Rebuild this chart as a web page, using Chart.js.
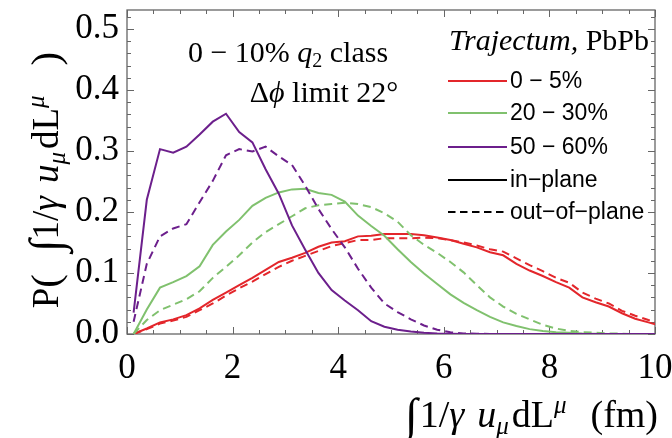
<!DOCTYPE html>
<html>
<head>
<meta charset="utf-8">
<script src="https://cdn.jsdelivr.net/npm/chart.js@4/dist/chart.umd.min.js"></script>
<style>
  html, body { margin: 0; padding: 0; background: #fff; }
  #wrap { width: 672px; height: 438px; }
</style>
</head>
<body>
<div id="wrap"><canvas id="pathChart" width="672" height="438"></canvas></div>
<script>
// Path-length bin centres (fm)
const lengthBins = [0.125, 0.375, 0.625, 0.875, 1.125, 1.375, 1.625, 1.875, 2.125, 2.375,
  2.625, 2.875, 3.125, 3.375, 3.625, 3.875, 4.125, 4.375, 4.625, 4.875,
  5.125, 5.375, 5.625, 5.875, 6.125, 6.375, 6.625, 6.875, 7.125, 7.375,
  7.625, 7.875, 8.125, 8.375, 8.625, 8.875, 9.125, 9.375, 9.625, 9.875, 10.125];

// 0-5% centrality
const central_in = [0, 0.009, 0.019, 0.024, 0.031, 0.042, 0.056, 0.068, 0.080, 0.092,
  0.105, 0.118, 0.125, 0.133, 0.143, 0.150, 0.152, 0.160, 0.161, 0.164,
  0.164, 0.164, 0.162, 0.158, 0.154, 0.148, 0.142, 0.134, 0.129, 0.115,
  0.104, 0.095, 0.085, 0.076, 0.060, 0.052, 0.045, 0.034, 0.025, 0.019, 0.013];
const central_out = [0, 0.008, 0.017, 0.022, 0.028, 0.039, 0.050, 0.063, 0.075, 0.086,
  0.098, 0.110, 0.120, 0.128, 0.136, 0.144, 0.149, 0.154, 0.154, 0.157,
  0.157, 0.157, 0.158, 0.157, 0.154, 0.150, 0.145, 0.139, 0.135, 0.124,
  0.113, 0.103, 0.092, 0.084, 0.068, 0.058, 0.050, 0.038, 0.030, 0.023, 0.017];

// 20-30% centrality
const mid_in = [0, 0.040, 0.076, 0.085, 0.095, 0.111, 0.146, 0.168, 0.187, 0.210,
  0.223, 0.232, 0.237, 0.238, 0.231, 0.228, 0.217, 0.194, 0.177, 0.161,
  0.139, 0.118, 0.099, 0.082, 0.065, 0.051, 0.039, 0.028, 0.019, 0.013,
  0.008, 0.005, 0.003, 0.002, 0.001, 0.0005, 0, 0, 0, 0, 0];
const mid_out = [0, 0.023, 0.039, 0.048, 0.057, 0.070, 0.092, 0.110, 0.129, 0.150,
  0.167, 0.180, 0.193, 0.206, 0.211, 0.213, 0.215, 0.213, 0.208, 0.198,
  0.184, 0.162, 0.146, 0.133, 0.118, 0.101, 0.080, 0.060, 0.045, 0.033,
  0.024, 0.015, 0.009, 0.005, 0.003, 0.002, 0.001, 0.0005, 0, 0, 0];

// 50-60% centrality
const peri_in = [0.035, 0.220, 0.303, 0.297, 0.307, 0.327, 0.348, 0.361, 0.331, 0.314,
  0.270, 0.230, 0.178, 0.138, 0.100, 0.072, 0.055, 0.039, 0.021, 0.012,
  0.007, 0.004, 0.002, 0.001, 0.0005, 0, 0, 0, 0, 0,
  0, 0, 0, 0, 0, 0, 0, 0, 0, 0, 0];
const peri_out = [0.020, 0.115, 0.160, 0.173, 0.180, 0.216, 0.251, 0.293, 0.303, 0.299,
  0.307, 0.291, 0.277, 0.243, 0.205, 0.172, 0.142, 0.107, 0.076, 0.050,
  0.036, 0.024, 0.014, 0.007, 0.003, 0.001, 0.0005, 0, 0, 0,
  0, 0, 0, 0, 0, 0, 0, 0, 0, 0, 0];

const xTicks = [0, 2, 4, 6, 8, 10];
const yTicks = [0, 0.1, 0.2, 0.3, 0.4, 0.5];
const centralityLabels = ["0 \u2212 5%", "20 \u2212 30%", "50 \u2212 60%"];
const styleLabels = ["in\u2212plane", "out\u2212of\u2212plane"];

const RED = "#e3262b", GREEN = "#80c16e", PURPLE = "#6c1f8c";
const SERIF = "'Liberation Serif','Times New Roman',serif";
const SANS = "'Liberation Sans',Arial,sans-serif";
const DASH = [8, 5];

function series(label, values, color, dashed, order) {
  return {
    label: label,
    data: values.map((v, i) => ({ x: lengthBins[i], y: v })),
    borderColor: color,
    borderWidth: 2,
    borderDash: dashed ? DASH : [],
    pointRadius: 0,
    tension: 0,
    fill: false,
    order: order
  };
}

// draw a run of text pieces with different fonts / offsets; g = extra gap after piece
function drawRich(ctx, parts, x, y, align) {
  let w = 0;
  parts.forEach(p => { ctx.font = p.f; p.w = ctx.measureText(p.t).width + (p.g || 0); w += p.w; });
  let cx = align === "center" ? x - w / 2 : align === "right" ? x - w : x;
  parts.forEach(p => { ctx.font = p.f; ctx.fillText(p.t, cx, y + (p.dy || 0)); cx += p.w; });
  return w;
}

// frame with inward ticks on all four sides
const frameTicks = {
  id: "frameTicks",
  beforeDatasetsDraw(chart) {
    const { ctx, chartArea: a, scales: { x, y } } = chart;
    ctx.save();
    ctx.strokeStyle = "#666";
    ctx.lineWidth = 1.3;
    ctx.strokeRect(a.left, a.top, a.right - a.left, a.bottom - a.top);
    ctx.lineWidth = 1;
    ctx.beginPath();
    for (let i = 0; i <= 20; i++) {
      const px = Math.round(x.getPixelForValue(i * 0.5)) + 0.5;
      const len = i % 4 === 0 ? 7 : 4;
      ctx.moveTo(px, a.bottom); ctx.lineTo(px, a.bottom - len);
      ctx.moveTo(px, a.top); ctx.lineTo(px, a.top + len);
    }
    for (let i = 0; i <= 26; i++) {
      const py = Math.round(y.getPixelForValue(i * 0.02)) + 0.5;
      const len = i % 5 === 0 ? 7 : 4;
      ctx.moveTo(a.left, py); ctx.lineTo(a.left + len, py);
      ctx.moveTo(a.right, py); ctx.lineTo(a.right - len, py);
    }
    ctx.stroke();
    ctx.restore();
  }
};

// axis titles, annotation and legend
const labelsPlugin = {
  id: "labelsPlugin",
  afterDraw(chart) {
    const ctx = chart.ctx;
    ctx.save();
    ctx.fillStyle = "#000";
    ctx.textBaseline = "alphabetic";

    const rm = s => s + "px " + SERIF;
    const it = s => "italic " + s + "px " + SERIF;

    // y title (rotated)
    ctx.save();
    ctx.translate(58, 180);
    ctx.rotate(-Math.PI / 2);
    drawRich(ctx, [
      { t: "P", f: rm(37) },
      { t: "(", f: rm(41), dy: 1, g: 22 },
      { t: "\u222B", f: rm(46), dy: 3 },
      { t: "1/", f: rm(37) },
      { t: "\u03B3", f: it(37), g: 13 },
      { t: "u", f: it(37) },
      { t: "\u03BC", f: it(25), dy: 7, g: 3 },
      { t: "dL", f: rm(37) },
      { t: "\u03BC", f: it(25), dy: -14, g: 30 },
      { t: ")", f: rm(41), dy: 1 }
    ], 0, 0, "center");
    ctx.restore();

    // x title
    drawRich(ctx, [
      { t: "\u222B", f: rm(46), dy: 3, g: 2 },
      { t: "1/", f: rm(38) },
      { t: "\u03B3", f: it(38), g: 13 },
      { t: "u", f: it(38) },
      { t: "\u03BC", f: it(25), dy: 7, g: 3 },
      { t: "dL", f: rm(38) },
      { t: "\u03BC", f: it(25), dy: -14, g: 24 },
      { t: "(fm)", f: rm(38) }
    ], 658, 427, "right");

    // annotation
    drawRich(ctx, [
      { t: "0 \u2212 10% ", f: rm(30) },
      { t: "q", f: it(30) },
      { t: "2", f: rm(20), dy: 5 },
      { t: " class", f: rm(30) }
    ], 288, 62, "center");
    drawRich(ctx, [
      { t: "\u0394", f: rm(30) },
      { t: "\u03D5", f: it(30) },
      { t: " limit 22\u00B0", f: rm(30) }
    ], 324, 102, "center");

    // legend
    drawRich(ctx, [
      { t: "Trajectum,", f: it(30) },
      { t: " PbPb", f: rm(30) }
    ], 649, 50, "right");

    const rows = [
      { c: RED, d: [], t: centralityLabels[0], y: 81 },
      { c: GREEN, d: [], t: centralityLabels[1], y: 113 },
      { c: PURPLE, d: [], t: centralityLabels[2], y: 147 },
      { c: "#000", d: [], t: styleLabels[0], y: 180 },
      { c: "#000", d: [7.5, 4.5], t: styleLabels[1], y: 212 }
    ];
    ctx.font = "23px " + SANS;
    ctx.textBaseline = "middle";
    rows.forEach(r => {
      ctx.strokeStyle = r.c;
      ctx.lineWidth = 2;
      ctx.setLineDash(r.d);
      ctx.beginPath();
      ctx.moveTo(448, r.y); ctx.lineTo(507, r.y);
      ctx.stroke();
      ctx.fillText(r.t, 510, r.y + 1);
    });
    ctx.restore();
  }
};

new Chart(document.getElementById("pathChart"), {
  type: "line",
  data: {
    datasets: [
      series("0-5% in-plane", central_in, RED, false, 6),
      series("0-5% out-of-plane", central_out, RED, true, 5),
      series("20-30% in-plane", mid_in, GREEN, false, 4),
      series("20-30% out-of-plane", mid_out, GREEN, true, 3),
      series("50-60% in-plane", peri_in, PURPLE, false, 2),
      series("50-60% out-of-plane", peri_out, PURPLE, true, 1)
    ]
  },
  options: {
    responsive: false,
    animation: false,
    layout: { padding: { top: 10, right: 17, left: 0, bottom: 0 } },
    plugins: { legend: { display: false }, tooltip: { enabled: false } },
    scales: {
      x: {
        type: "linear",
        min: 0,
        max: 10,
        grid: { display: false, drawTicks: false },
        border: { display: false },
        afterBuildTicks: s => { s.ticks = xTicks.map(v => ({ value: v })); },
        afterFit: s => { s.height = 104; s.paddingLeft = 0; s.paddingRight = 0; },
        ticks: {
          autoSkip: false,
          maxRotation: 0,
          padding: 14,
          color: "#000",
          font: { family: SERIF, size: 35 },
          callback: v => String(v)
        }
      },
      y: {
        min: 0,
        max: 0.531,
        grid: { display: false, drawTicks: false },
        border: { display: false },
        afterBuildTicks: s => { s.ticks = yTicks.map(v => ({ value: v })); },
        afterFit: s => { s.width = 127; s.paddingTop = 0; s.paddingBottom = 0; },
        ticks: {
          padding: 8,
          color: "#000",
          font: { family: SERIF, size: 35 },
          callback: v => Number(v).toFixed(1)
        }
      }
    }
  },
  plugins: [frameTicks, labelsPlugin]
});
</script>
</body>
</html>
